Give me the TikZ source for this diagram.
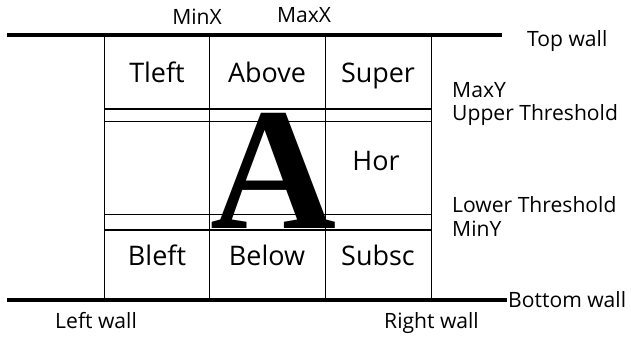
\documentclass[tikz,border=0pt]{standalone}
\usepackage{fontspec}
\setmainfont{Open Sans}
\newfontfamily\bigserif{Liberation Serif}
\begin{document}
\begin{tikzpicture}[x=0.03cm,y=-0.03cm,
    wall/.style={line width=4pt},
    grid/.style={line width=0.8pt},
    bound/.style={line width=1.6pt},
    cell/.style={inner sep=0,anchor=base,font=\fontsize{23}{28}\selectfont},
    tag/.style={inner sep=0,anchor=base west,font=\fontsize{18}{22}\selectfont}]
    \useasboundingbox (0,0) rectangle (631,337);
    % walls
    \coordinate (TL) at (7,35);
    \coordinate (TR) at (502,35);
    \coordinate (BL) at (7,300);
    \coordinate (BR) at (507,300);
    \draw[wall] (TL) -- (TR);
    \draw[wall] (BL) -- (BR);
    % grid
    \foreach \x in {104,209,325,431} {
        \draw[grid] (\x,35) -- (\x,300);
    }
    \draw[bound] (104,109) -- (431,109);
    \draw[grid] (104,121) -- (431,121);
    \draw[grid] (104,214) -- (431,214);
    \draw[bound] (104,230) -- (431,230);
    % the letter
    \node[inner sep=0,anchor=base,font=\bigserif\bfseries\fontsize{149}{149}\selectfont] (letter) at (274,228) {A};
    % cells
    \foreach \n/\t/\x in {tleft/Tleft/157,above/Above/267,super/Super/378} {
        \node[cell] (\n) at (\x,82) {\t};
    }
    \node[cell] (hor) at (376,170) {Hor};
    \foreach \n/\t/\x in {bleft/Bleft/157,below/Below/267,subsc/Subsc/378} {
        \node[cell] (\n) at (\x,265) {\t};
    }
    % labels
    \node[tag,anchor=base] (minx) at (197,25) {MinX};
    \node[tag,anchor=base] (maxx) at (304,23) {MaxX};
    \node[tag] (topwall) at (527,46) {Top wall};
    \node[tag] (maxy) at (452,97) {MaxY};
    \node[tag] (upper) at (452,120) {Upper Threshold};
    \node[tag] (lower) at (452,212) {Lower Threshold};
    \node[tag] (miny) at (452,236) {MinY};
    \node[tag] (botwall) at (508,307) {Bottom wall};
    \node[tag] (leftwall) at (55,328) {Left wall};
    \node[tag] (rightwall) at (384,328) {Right wall};
\end{tikzpicture}
\end{document}
